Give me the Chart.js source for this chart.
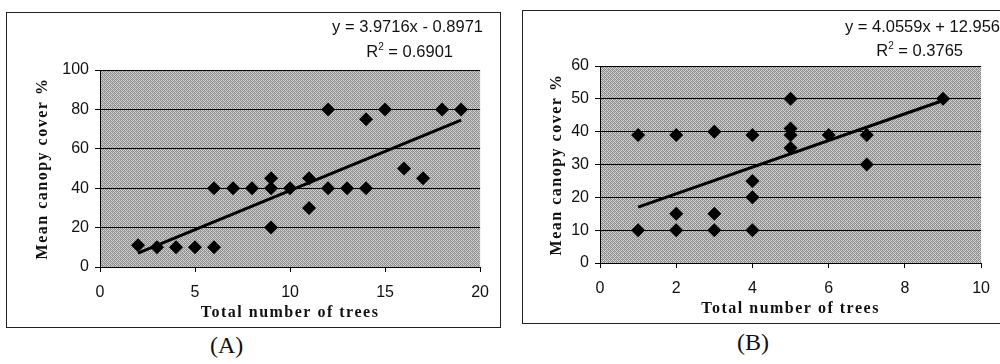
<!DOCTYPE html>
<html>
<head>
<meta charset="utf-8">
<script src="https://cdn.jsdelivr.net/npm/chart.js@4/dist/chart.umd.min.js"></script>
<style>
  body { margin: 0; background: #fff; width: 1000px; height: 364px; position: relative; overflow: hidden; }
  .frame { position: absolute; border: 1px solid #222; box-sizing: border-box; }
  .eq { position: absolute; font-family: "Liberation Sans", Arial, sans-serif; font-size: 16.5px; color: #111; white-space: nowrap; }
  .cap { position: absolute; font-family: "Liberation Serif", "Times New Roman", serif; font-size: 24px; color: #111; }
</style>
</head>
<body>
<div class="frame" id="frameA" style="left:6px;top:12px;width:495px;height:316px;">
  <canvas id="chartA" width="493" height="314"></canvas>
</div>
<div class="frame" id="frameB" style="left:522px;top:10px;width:480px;height:314px;">
  <canvas id="chartB" width="478" height="312"></canvas>
</div>
<div class="eq" style="right:517px;top:17px;">y = 3.9716x - 0.8971</div>
<div class="eq" style="right:547px;top:41px;">R<sup style="font-size:10px">2</sup> = 0.6901</div>
<div class="eq" style="right:0px;top:17px;">y = 4.0559x + 12.956</div>
<div class="eq" style="right:37px;top:40px;">R<sup style="font-size:10px">2</sup> = 0.3765</div>
<div class="cap" style="left:210px;top:332px;">(A)</div>
<div class="cap" style="left:737px;top:329px;">(B)</div>
<script>
// chart A: total trees vs canopy cover
var xA = [2, 3, 4, 5, 6, 6, 7, 8, 9, 9, 9, 10, 11, 11, 12, 12, 13, 14, 14, 15, 16, 17, 18, 19];
var yA = [11, 10, 10, 10, 10, 40, 40, 40, 40, 45, 20, 40, 45, 30, 80, 40, 40, 75, 40, 80, 50, 45, 80, 80];
var trendXA = [2, 19];
var trendYA = [7.0, 74.6];
var yTicksA = [0, 20, 40, 60, 80, 100];
var xTicksA = [0, 5, 10, 15, 20];

// chart B
var xB = [1, 1, 2, 2, 2, 3, 3, 3, 4, 4, 4, 4, 5, 5, 5, 5, 6, 7, 7, 9];
var yB = [39, 10, 39, 15, 10, 40, 15, 10, 39, 25, 20, 10, 50, 41, 39, 35, 39, 39, 30, 50];
var trendXB = [1, 9];
var trendYB = [17.0, 49.5];
var yTicksB = [0, 10, 20, 30, 40, 50, 60];
var xTicksB = [0, 2, 4, 6, 8, 10];

function makePattern() {
  var p = document.createElement('canvas');
  p.width = 4; p.height = 4;
  var c = p.getContext('2d');
  c.fillStyle = '#d6d6d6';
  c.fillRect(0, 0, 4, 4);
  c.fillStyle = '#8e8e8e';
  c.fillRect(0, 0, 1, 1); c.fillRect(2, 0, 1, 1);
  c.fillRect(1, 1, 1, 1); c.fillRect(3, 1, 1, 1);
  c.fillRect(0, 2, 1, 1); c.fillRect(2, 2, 1, 1);
  c.fillRect(1, 3, 1, 1); c.fillRect(3, 3, 1, 1);
  c.fillStyle = '#a8a8a8';
  c.fillRect(3, 0, 1, 1); c.fillRect(1, 2, 1, 1);
  return c.createPattern(p, 'repeat');
}

var bgPlugin = {
  id: 'plotBg',
  beforeDraw: function(chart) {
    var a = chart.chartArea;
    var ctx = chart.ctx;
    ctx.save();
    ctx.fillStyle = makePattern();
    ctx.fillRect(a.left, a.top, a.right - a.left, a.bottom - a.top);
    ctx.restore();
    // spaced-out axis titles, like the original
    Object.values(chart.scales).forEach(function(s) {
      if (s._spaced) return;
      var orig = s.drawTitle;
      s.drawTitle = function() {
        this.ctx.save();
        this.ctx.letterSpacing = '1.5px';
        orig.apply(this, arguments);
        this.ctx.restore();
      };
      s._spaced = true;
    });
  }
};

function pts(xs, ys) {
  return xs.map(function(x, i) { return { x: x, y: ys[i] }; });
}

function buildChart(id, xs, ys, tx, ty, xTicks, yTicks, pad, yWidth, xHeight) {
  var el = document.getElementById(id);
  return new Chart(el, {
    type: 'scatter',
    data: {
      datasets: [
        {
          data: pts(tx, ty),
          showLine: true,
          borderColor: '#000',
          borderWidth: 3,
          pointRadius: 0,
          order: 2
        },
        {
          data: pts(xs, ys),
          pointStyle: 'rectRot',
          pointRadius: 7,
          backgroundColor: '#000',
          borderColor: '#000',
          borderWidth: 0,
          order: 1
        }
      ]
    },
    options: {
      responsive: false,
      animation: false,
      layout: { padding: pad },
      plugins: { legend: { display: false }, tooltip: { enabled: false } },
      scales: {
        x: {
          type: 'linear',
          min: xTicks[0],
          max: xTicks[xTicks.length - 1],
          afterBuildTicks: function(s) { s.ticks = xTicks.map(function(v) { return { value: v }; }); },
          afterFit: function(s) { s.height = xHeight; },
          grid: { display: true, drawOnChartArea: false, drawTicks: true, tickLength: 5, color: '#000' },
          border: { color: '#000', width: 1 },
          ticks: { color: '#111', padding: 11, font: { family: 'Liberation Sans', size: 16 } },
          title: {
            display: true,
            text: 'Total number of trees',
            color: '#111',
            padding: { top: 0, bottom: 5 },
            font: { family: 'Liberation Serif', size: 16, weight: 'bold' }
          }
        },
        y: {
          min: yTicks[0],
          max: yTicks[yTicks.length - 1],
          afterBuildTicks: function(s) { s.ticks = yTicks.map(function(v) { return { value: v }; }); },
          afterFit: function(s) { s.width = yWidth; },
          grid: { color: '#000', lineWidth: 1, tickLength: 5, drawTicks: true },
          border: { color: '#000', width: 1 },
          ticks: { color: '#111', padding: 6, font: { family: 'Liberation Sans', size: 16 } },
          title: {
            display: true,
            text: 'Mean canopy cover %',
            color: '#111',
            padding: { top: 0, bottom: 0 },
            font: { family: 'Liberation Serif', size: 16, weight: 'bold' }
          }
        }
      }
    },
    plugins: [bgPlugin]
  });
}

buildChart('chartA', xA, yA, trendXA, trendYA, xTicksA, yTicksA,
  { left: 26, top: 57, right: 16, bottom: 0 }, 67, 60);
buildChart('chartB', xB, yB, trendXB, trendYB, xTicksB, yTicksB,
  { left: 24, top: 55, right: 11, bottom: 0 }, 53, 60);
</script>
</body>
</html>
